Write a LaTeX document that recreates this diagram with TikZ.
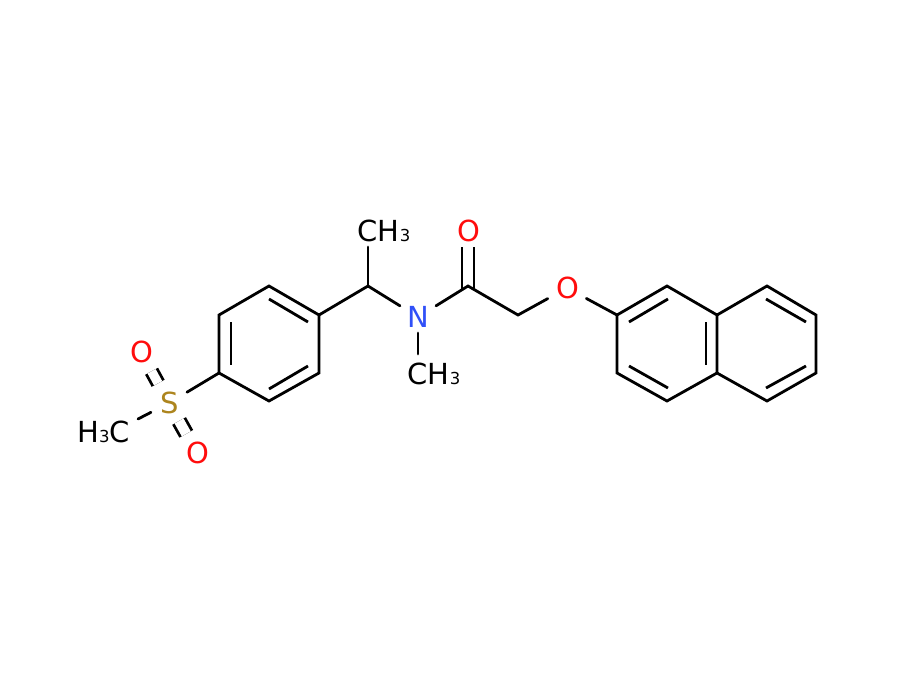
\documentclass[tikz,border=0pt]{standalone}
\usepackage{fontspec}
\setmainfont{DejaVu Sans}
\definecolor{oxy}{HTML}{FF0D0D}
\definecolor{nit}{HTML}{3050F8}
\definecolor{sul}{HTML}{AD851E}
\newcommand{\subthree}{{\fontsize{16.5}{16.5}\selectfont 3}}
\tikzset{
  bond/.style={line width=2.8pt,draw=black,line cap=round,line join=miter},
  dbl/.style={line width=2.8pt,draw=black,double=white,line cap=butt},
  atomlabel/.style={inner sep=0pt,outer sep=0pt,font=\fontsize{29}{29}\selectfont,text height=20.3pt,text depth=0pt,align=center},
  oxygen/.style={atomlabel,text=oxy,circle,minimum size=44pt,execute at begin node=\hspace*{1.2pt}},
  nitrogen/.style={atomlabel,text=nit,rectangle,minimum width=36pt,minimum height=32pt,execute at begin node=\hspace*{0.6pt}},
  sulfur/.style={atomlabel,text=sul,rectangle,minimum width=36pt,minimum height=36pt,execute at begin node=\hspace*{2pt}},
  methyl/.style={atomlabel,text=black,rectangle}
}
\begin{document}
\begin{tikzpicture}[x=1pt,y=-1pt]
\fill[white] (0,0) rectangle (900,680);
\useasboundingbox (0,0) rectangle (900,680);
% labelled atoms
\node[sulfur] (S) at (169,403) {S};
\node[oxygen] (O1) at (141,352) {O};
\node[oxygen] (O2) at (197,453) {O};
\node[methyl] (Me1) at (103.5,432) {H\subthree C};
\node[methyl,minimum height=32pt] (Me2) at (384,231) {CH\subthree};
\node[methyl,minimum height=40pt] (Me3) at (434,374) {CH\subthree};
\node[nitrogen] (N) at (418,317) {N};
\node[oxygen,minimum size=32pt,execute at begin node={}] (O3) at (468,231) {O};
\node[oxygen] (O4) at (567,288) {O};
% skeleton atoms
\coordinate (a1) at (269,286);
\coordinate (a2) at (319,315);
\coordinate (a3) at (319,373);
\coordinate (a4) at (269,401);
\coordinate (a5) at (219,373);
\coordinate (a6) at (219,315);
\coordinate (chi) at (368,286);
\coordinate (co) at (468,286);
\coordinate (ch2) at (518,315);
\coordinate (b1) at (617,315);
\coordinate (b2) at (667,286);
\coordinate (b3) at (717,315);
\coordinate (b4) at (717,373);
\coordinate (b5) at (667,401);
\coordinate (b6) at (617,373);
\coordinate (c1) at (767,286);
\coordinate (c2) at (816,315);
\coordinate (c3) at (816,373);
\coordinate (c4) at (767,401);
\coordinate (meEnd) at (138,419);
% inner ends of the aromatic double bonds
\coordinate (i1) at (231,322); \coordinate (i2) at (231,365);
\coordinate (i3) at (269,299); \coordinate (i4) at (308,322);
\coordinate (i5) at (269,389); \coordinate (i6) at (308,366);
\coordinate (j1) at (629,322); \coordinate (j2) at (668,299);
\coordinate (j3) at (629,366); \coordinate (j4) at (668,388);
\coordinate (j5) at (706,322); \coordinate (j6) at (706,365);
\coordinate (k1) at (766,299); \coordinate (k2) at (806,322);
\coordinate (k3) at (766,388); \coordinate (k4) at (806,366);
% double bonds to oxygen
\draw[dbl,double distance=9.2pt,shorten <=2pt] (S) -- (O1);
\draw[dbl,double distance=10.2pt] (S) -- (O2);
\draw[dbl,double distance=9.2pt,shorten >=-3pt] (O3) -- (co);
% rings
\draw[bond] (a1) -- (a2) -- (a3) -- (a4) -- (a5) -- (a6) -- cycle;
\draw[bond] (b1) -- (b2) -- (b3) -- (b4) -- (b5) -- (b6) -- cycle;
\draw[bond] (b3) -- (c1) -- (c2) -- (c3) -- (c4) -- (b4);
\draw[bond,line cap=butt] (i1) -- (i2);
\draw[bond,line cap=butt] (i3) -- (i4);
\draw[bond,line cap=butt] (i5) -- (i6);
\draw[bond,line cap=butt] (j1) -- (j2);
\draw[bond,line cap=butt] (j3) -- (j4);
\draw[bond,line cap=butt] (j5) -- (j6);
\draw[bond,line cap=butt] (k1) -- (k2);
\draw[bond,line cap=butt] (k3) -- (k4);
% chain
\draw[bond] (S) -- (a5);
\draw[bond] (S) -- (meEnd);
\draw[bond] (a2) -- (chi) -- (N);
\draw[bond] (chi) -- (Me2.south -| chi);
\draw[bond] (N) -- (Me3.north -| N);
\draw[bond] (N) -- (co) -- (ch2) -- (O4);
\draw[bond] (O4) -- (b1);
\end{tikzpicture}
\end{document}
